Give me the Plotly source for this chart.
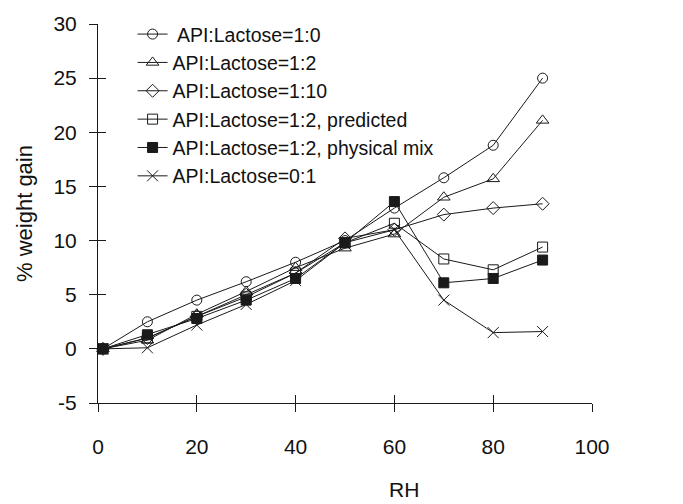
import plotly.graph_objects as go

rh = [1, 10, 20, 30, 40, 50, 60, 70, 80, 90]

names = [" API:Lactose=1:0", "API:Lactose=1:2", "API:Lactose=1:10",
         "API:Lactose=1:2, predicted", "API:Lactose=1:2, physical mix", "API:Lactose=0:1"]

s_1_0 = [0, 2.5, 4.5, 6.2, 8.0, 10.0, 13.0, 15.8, 18.8, 25.0]
s_1_2 = [0, 0.8, 3.2, 5.3, 7.5, 9.3, 10.6, 14.0, 15.7, 21.1]
s_1_10 = [0, 1.0, 3.0, 5.0, 7.0, 10.2, 11.0, 12.4, 13.0, 13.4]
s_pred = [0, 1.0, 3.0, 4.8, 7.0, 9.8, 11.6, 8.3, 7.3, 9.4]
s_phys = [0, 1.3, 2.8, 4.5, 6.5, 9.8, 13.6, 6.1, 6.5, 8.2]
s_0_1 = [0, 0.1, 2.2, 4.1, 6.3, 9.8, 11.0, 4.5, 1.5, 1.6]

series = [s_1_0, s_1_2, s_1_10, s_pred, s_phys, s_0_1]
symbols = ["circle-open", "triangle-up-open", "diamond-open", "square-open", "square", "x-thin-open"]
sizes = [10, 11, 10, 10, 10, 11]

x_ticks = [0, 20, 40, 60, 80, 100]
x_labels = ["0", "20", "40", "60", "80", "100"]
y_ticks = [-5, 0, 5, 10, 15, 20, 25, 30]
y_labels = ["-5", "0", "5", "10", "15", "20", "25", "30"]

FONT = "Liberation Sans, Arial, sans-serif"
INK = "#1a1a1a"

fig = go.Figure()
for name, ys, sym, sz in zip(names, series, symbols, sizes):
    fig.add_trace(go.Scatter(
        x=rh, y=ys, name=name, mode="lines+markers",
        line=dict(color=INK, width=1),
        marker=dict(symbol=sym, size=sz, color=INK,
                    line=dict(color=INK, width=1)),
        cliponaxis=False,
    ))

# empty trace to activate overlay axes (inside ticks -> crossing ticks)
fig.add_trace(go.Scatter(x=[], y=[], xaxis="x2", yaxis="y2", showlegend=False))

fig.update_layout(
    width=683, height=504,
    margin=dict(l=98, r=91, t=20, b=101),
    paper_bgcolor="white", plot_bgcolor="white",
    font=dict(family=FONT, size=21, color="#111"),
    showlegend=True,
    legend=dict(x=0.07, y=1.024, xanchor="left", yanchor="top",
                bgcolor="rgba(0,0,0,0)", font=dict(size=19.5),
                itemwidth=30, tracegroupgap=0),
    xaxis=dict(range=[0, 100], tickvals=x_ticks, ticktext=x_labels,
               ticks="outside", ticklen=8, tickfont=dict(size=21),
               tickcolor=INK, showline=True, linecolor=INK, linewidth=1,
               showgrid=False, zeroline=False, ticklabelstandoff=17),
    yaxis=dict(range=[-5, 30], tickvals=y_ticks, ticktext=y_labels,
               ticks="outside", ticklen=8, tickfont=dict(size=21),
               tickcolor=INK, showline=True, linecolor=INK, linewidth=1,
               showgrid=False, zeroline=False, ticklabelstandoff=8,
               title=dict(text="% weight gain", standoff=14, font=dict(size=22))),
    xaxis2=dict(range=[0, 100], tickvals=x_ticks, ticks="inside", ticklen=8,
                tickcolor=INK, overlaying="x", anchor="y2", side="bottom",
                showticklabels=False, showline=False, showgrid=False, zeroline=False),
    yaxis2=dict(range=[-5, 30], tickvals=y_ticks, ticks="inside", ticklen=8,
                tickcolor=INK, overlaying="y", anchor="x2", side="left",
                showticklabels=False, showline=False, showgrid=False, zeroline=False),
    annotations=[dict(text="RH", xref="paper", yref="paper", x=0.619, y=-0.227,
                      xanchor="center", yanchor="middle", showarrow=False,
                      font=dict(size=21))],
)

fig.write_html("out.html")
